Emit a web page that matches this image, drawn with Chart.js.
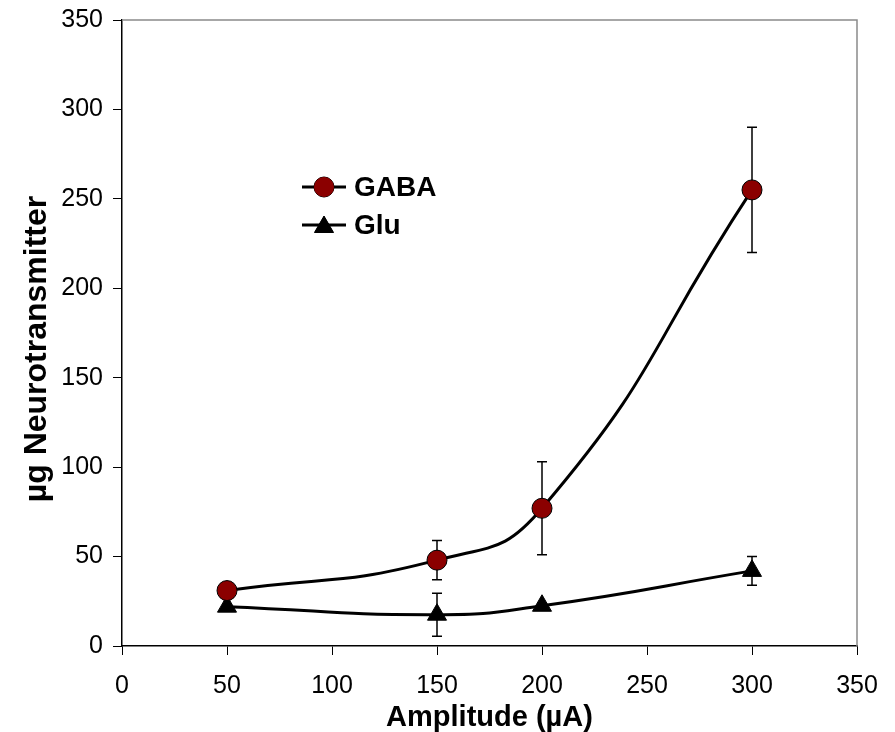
<!DOCTYPE html>
<html>
<head>
<meta charset="utf-8">
<script src="https://cdn.jsdelivr.net/npm/chart.js@4"></script>
<style>
  html, body { margin: 0; padding: 0; background: #fff; }
  #wrap { width: 895px; height: 732px; }
</style>
</head>
<body>
<div id="wrap"><canvas id="chart" width="895" height="732"></canvas></div>
<script>
// data
const amplitudes = [50, 150, 200, 300];
const gabaValues = [31, 48, 77, 255];
const gabaErrors = [0, 11, 26, 35];
const gluValues = [22, 17.5, 22.5, 42];
const gluErrors = [0, 12, 0, 8];
const xTicks = [0, 50, 100, 150, 200, 250, 300, 350];
const yTicks = [0, 50, 100, 150, 200, 250, 300, 350];
const yTitle = 'µg Neurotransmitter';

const FONT = "'Liberation Sans', Arial, sans-serif";
const GABA_RED = '#8b0000';

function toPoints(vals) {
  return amplitudes.map((a, i) => ({ x: a, y: vals[i] }));
}

// error bars, drawn under the markers
const errorBars = {
  id: 'errorBars',
  beforeDatasetsDraw(chart) {
    const ctx = chart.ctx;
    const x = chart.scales.x, y = chart.scales.y;
    const sets = [[gabaValues, gabaErrors], [gluValues, gluErrors]];
    ctx.save();
    ctx.strokeStyle = '#000';
    ctx.lineWidth = 1.5;
    sets.forEach(([vals, errs]) => {
      amplitudes.forEach((a, i) => {
        if (!errs[i]) return;
        const px = x.getPixelForValue(a);
        const top = y.getPixelForValue(vals[i] + errs[i]);
        const bot = y.getPixelForValue(vals[i] - errs[i]);
        ctx.beginPath();
        ctx.moveTo(px, top); ctx.lineTo(px, bot);
        ctx.moveTo(px - 5, top); ctx.lineTo(px + 5, top);
        ctx.moveTo(px - 5, bot); ctx.lineTo(px + 5, bot);
        ctx.stroke();
      });
    });
    ctx.restore();
  }
};

// grey top/right frame, y title and legend inside the plot
const frameAndLegend = {
  id: 'frameAndLegend',
  afterDraw(chart) {
    const ctx = chart.ctx;
    const a = chart.chartArea;
    ctx.save();
    ctx.strokeStyle = '#8a8a8a';
    ctx.lineWidth = 1.5;
    ctx.beginPath();
    ctx.moveTo(a.left, a.top); ctx.lineTo(a.right, a.top); ctx.lineTo(a.right, a.bottom);
    ctx.stroke();

    // y axis title
    ctx.save();
    ctx.translate(37, 349);
    ctx.rotate(-Math.PI / 2);
    ctx.fillStyle = '#000';
    ctx.font = 'bold 32px ' + FONT;
    ctx.textAlign = 'center';
    ctx.textBaseline = 'middle';
    ctx.fillText(yTitle, 0, 0);
    ctx.restore();

    const items = [
      { label: 'GABA', y: 187, style: 'circle', color: GABA_RED, r: 10 },
      { label: 'Glu', y: 225, style: 'triangle', color: '#000', r: 11 }
    ];
    items.forEach(it => {
      ctx.strokeStyle = '#000';
      ctx.lineWidth = 3;
      ctx.beginPath();
      ctx.moveTo(302, it.y); ctx.lineTo(346, it.y);
      ctx.stroke();
      ctx.lineWidth = 1;
      ctx.fillStyle = it.color;
      Chart.helpers.drawPoint(ctx, { pointStyle: it.style, radius: it.r, rotation: 0, borderWidth: 1 }, 324, it.style === 'triangle' ? it.y + 2 : it.y);
      ctx.fill();
      ctx.fillStyle = '#000';
      ctx.font = 'bold 28px ' + FONT;
      ctx.textAlign = 'left';
      ctx.textBaseline = 'middle';
      ctx.fillText(it.label, 354, it.y + 1);
    });
    ctx.restore();
  }
};

new Chart(document.getElementById('chart'), {
  type: 'line',
  data: {
    datasets: [{
      label: 'GABA',
      data: toPoints(gabaValues),
      borderColor: '#000',
      borderWidth: 3,
      tension: 0.5,
      pointStyle: 'circle',
      pointRadius: 10,
      pointBackgroundColor: GABA_RED,
      pointBorderColor: '#000',
      pointBorderWidth: 1
    }, {
      label: 'Glu',
      data: toPoints(gluValues),
      borderColor: '#000',
      borderWidth: 3,
      tension: 0.5,
      pointStyle: 'triangle',
      pointRadius: 11,
      pointBackgroundColor: '#000',
      pointBorderColor: '#000',
      pointBorderWidth: 1
    }]
  },
  options: {
    responsive: false,
    animation: false,
    layout: { padding: { top: 20, right: 38, left: 0, bottom: 0 } },
    plugins: { legend: { display: false }, tooltip: { enabled: false } },
    scales: {
      x: {
        type: 'linear',
        min: 0, max: 350,
        afterBuildTicks: s => { s.ticks = xTicks.map(v => ({ value: v })); },
        afterFit: s => { s.height = 86; s.paddingRight = 0; },
        grid: { drawOnChartArea: false, color: '#000', tickLength: 9, tickColor: '#000' },
        border: { color: '#000', width: 1.5 },
        ticks: { color: '#000', font: { family: FONT, size: 25 }, padding: 16, maxRotation: 0 },
        title: { display: true, text: 'Amplitude (µA)', color: '#000', font: { family: FONT, size: 29, weight: 'bold', lineHeight: 1 }, padding: { top: 0, bottom: 0 } }
      },
      y: {
        min: 0, max: 350,
        afterBuildTicks: s => { s.ticks = yTicks.map(v => ({ value: v })); },
        afterFit: s => { s.width = 122; s.paddingTop = 0; s.paddingBottom = 0; },
        grid: { drawOnChartArea: false, color: '#000', tickLength: 9, tickColor: '#000' },
        border: { color: '#000', width: 1.5 },
        ticks: { color: '#000', font: { family: FONT, size: 25 }, padding: 10 }
      }
    }
  },
  plugins: [errorBars, frameAndLegend]
});
</script>
</body>
</html>
